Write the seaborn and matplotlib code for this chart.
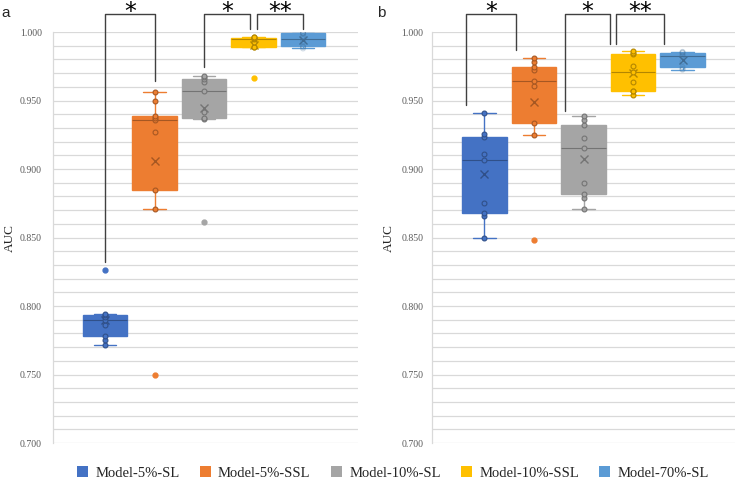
import matplotlib
matplotlib.use('Agg')
import matplotlib.pyplot as plt
import matplotlib.colors as mcolors
from matplotlib.patches import Patch
import seaborn as sns
import pandas as pd
import numpy as np

# model names (legend order)
models = ['Model-5%-SL', 'Model-5%-SSL', 'Model-10%-SL', 'Model-10%-SSL', 'Model-70%-SL']
palette = ['#4472C4', '#ED7D31', '#A5A5A5', '#FFC000', '#5B9BD5']

# AUC values, panel a
a_5_sl = [0.7715, 0.775, 0.778, 0.786, 0.790, 0.792, 0.7935, 0.794, 0.826]
a_5_ssl = [0.750, 0.8711, 0.8846, 0.927, 0.936, 0.937, 0.9387, 0.950, 0.9561]
a_10_sl = [0.8615, 0.9363, 0.9375, 0.9419, 0.9569, 0.9635, 0.9657, 0.967, 0.9679]
a_10_ssl = [0.9664, 0.9887, 0.9887, 0.993, 0.9949, 0.9955, 0.9958, 0.9962, 0.9966]
a_70_sl = [0.988, 0.989, 0.9895, 0.993, 0.995, 0.997, 0.999, 0.999, 0.9993]

# AUC values, panel b
b_5_sl = [0.8495, 0.866, 0.8679, 0.8755, 0.9066, 0.911, 0.923, 0.9252, 0.9407]
b_5_ssl = [0.848, 0.925, 0.9333, 0.9603, 0.9645, 0.9725, 0.9745, 0.978, 0.9811]
b_10_sl = [0.8711, 0.8789, 0.8814, 0.8897, 0.9154, 0.9225, 0.9319, 0.9358, 0.9387]
b_10_ssl = [0.9542, 0.9569, 0.9569, 0.9635, 0.9711, 0.975, 0.9843, 0.9845, 0.9863]
b_70_sl = [0.9725, 0.973, 0.9743, 0.9784, 0.9824, 0.983, 0.9846, 0.985, 0.9855]

# significance brackets: (x_left, y_left, x_right, y_right, label)
brackets_a = [(0.0, 0.8323, 1.0, 0.964, '*'),
              (1.99, 0.9745, 2.93, 1.002, '*'),
              (3.07, 1.002, 4.0, 1.002, '**')]
brackets_b = [(-0.376, 0.947, 0.634, 0.9868, '*'),
              (1.63, 0.9426, 2.54, 0.991, '*'),
              (2.66, 0.991, 3.62, 0.991, '**')]


def long_df(groups):
    rows = []
    for m, vals in zip(models, groups):
        for v in vals:
            rows.append((m, v))
    return pd.DataFrame(rows, columns=['model', 'auc'])


df_a = long_df([a_5_sl, a_5_ssl, a_10_sl, a_10_ssl, a_70_sl])
df_b = long_df([b_5_sl, b_5_ssl, b_10_sl, b_10_ssl, b_70_sl])

sns.set_style('white')
plt.rcParams['font.family'] = ['Liberation Serif', 'DejaVu Serif']

fig = plt.figure(figsize=(7.38, 4.83), dpi=100)
ax_a = fig.add_axes([53 / 738, 40 / 483, 305 / 738, 411 / 483])
ax_b = fig.add_axes([432 / 738, 40 / 483, 303 / 738, 411 / 483])


def darker(c, f=0.7):
    r, g, b = mcolors.to_rgb(c)
    return (r * f, g * f, b * f)


def draw_panel(ax, df, brackets, xlim, pad):
    for m, c in zip(models, palette):
        sub = df[df['model'] == m]
        dk = darker(c)
        sns.boxplot(data=sub, x='model', y='auc', order=models, color=c,
                    linecolor=c, width=0.9, linewidth=1.0, saturation=1,
                    showmeans=True, ax=ax,
                    medianprops=dict(color=dk, linewidth=0.8),
                    meanprops=dict(marker='x', markeredgecolor=dk,
                                   markersize=6, markeredgewidth=1.0),
                    flierprops=dict(marker='o', markerfacecolor=c,
                                    markeredgecolor=c, markersize=3.5))
        # inner points (non-outliers), drawn faint like the original
        q1, q3 = np.percentile(sub['auc'], [25, 75])
        iqr = q3 - q1
        inner = sub[(sub['auc'] >= q1 - 1.5 * iqr) & (sub['auc'] <= q3 + 1.5 * iqr)]
        sns.stripplot(data=inner, x='model', y='auc', order=models, jitter=False,
                      color=c, size=3.5, linewidth=0.8, edgecolor=dk, ax=ax)
        ax.collections[-1].set_facecolor('none')
        ax.collections[-1].set_alpha(0.25)

    top = 1.0128
    for xl, yl, xr, yr, lab in brackets:
        ax.plot([xl, xl, xr, xr], [yl, top, top, yr], color='#404040',
                linewidth=1.0, clip_on=False, zorder=5)
        ax.text((xl + xr) / 2, 1.0098, lab, ha='center', va='baseline',
                fontsize=17, family='DejaVu Sans', color='black')

    ax.set_ylim(0.7, 1.0)
    ax.set_xlim(*xlim)
    ax.set_yticks(np.arange(0.70, 1.0001, 0.05))
    ax.set_yticks(np.arange(0.70, 1.0001, 0.01), minor=True)
    ax.set_yticklabels(['%.3f' % v for v in np.arange(0.70, 1.0001, 0.05)])
    ax.grid(True, axis='y', which='both', color='#D9D9D9', linewidth=0.9)
    ax.set_axisbelow(True)
    ax.set_xticks([])
    ax.set_xlabel('')
    ax.set_ylabel('AUC', fontsize=9.5)
    ax.yaxis.set_label_coords(-0.122, 0.5)
    ax.tick_params(axis='y', which='both', length=0, labelsize=7,
                   labelcolor='#595959', pad=pad)
    for s in ['top', 'right', 'bottom']:
        ax.spines[s].set_visible(False)
    ax.spines['left'].set_color('#D9D9D9')
    ax.spines['left'].set_linewidth(0.9)
    if ax.get_legend() is not None:
        ax.get_legend().remove()


draw_panel(ax_a, df_a, brackets_a, (-1.05, 5.11), 8)
draw_panel(ax_b, df_b, brackets_b, (-1.06, 5.06), 6)

fig.text(1 / 738, 1 - 13 / 483, 'a', fontsize=11, family='Liberation Sans', va='center')
fig.text(377 / 738, 1 - 13 / 483, 'b', fontsize=11, family='Liberation Sans', va='center')

handles = [Patch(facecolor=c, edgecolor='none') for c in palette]
fig.legend(handles, models, loc='center', bbox_to_anchor=(393 / 738, 1 - 473 / 483),
           ncol=5, frameon=False, fontsize=10.5, handlelength=0.75, handleheight=0.75,
           handletextpad=0.5, columnspacing=1.4)

fig.savefig('out.png', dpi=100)
